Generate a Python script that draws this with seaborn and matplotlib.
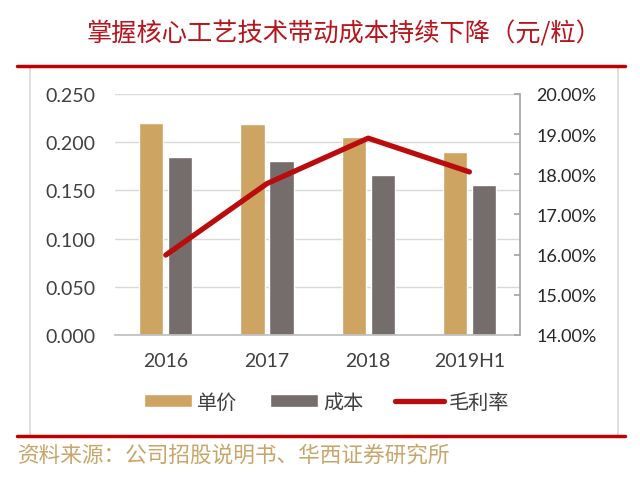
import matplotlib
matplotlib.use('Agg')
import matplotlib.pyplot as plt
import seaborn as sns
import pandas as pd
from matplotlib.lines import Line2D
from matplotlib.patches import Rectangle, Patch
from matplotlib.ticker import FuncFormatter

years = ['2016', '2017', '2018', '2019H1']
unit_price = [0.220, 0.219, 0.205, 0.190]
unit_cost = [0.185, 0.181, 0.166, 0.156]
gross_margin = [0.1599, 0.1777, 0.1890, 0.1806]

series_names = ['单价', '成本', '毛利率']
bar_colors = ['#CDA462', '#756C6C']
line_color = '#BA0C0C'

sns.set_theme(style='white')
cjk = ['Noto Sans CJK SC', 'DejaVu Sans']
num_font = ['Lato', 'DejaVu Sans']
plt.rcParams['font.family'] = cjk

df = pd.DataFrame({
    'year': years * 2,
    'value': unit_price + unit_cost,
    'kind': [series_names[0]] * len(years) + [series_names[1]] * len(years),
})

fig = plt.figure(figsize=(6.4, 4.81), dpi=100)
ax = fig.add_axes([0.18, 0.3015, 0.6325, 0.501])

sns.barplot(data=df, x='year', y='value', hue='kind', palette=bar_colors,
            width=0.575, gap=0.165, ax=ax, legend=False, saturation=1)
ax.set_ylim(0, 0.25)
ax.set_xlim(-0.5, 3.5)
ax.set_yticks([0, 0.05, 0.10, 0.15, 0.20, 0.25])
ax.yaxis.set_major_formatter(FuncFormatter(lambda v, p: f'{v:.3f}'))
ax.grid(axis='y', color='#D9D9D9', linewidth=1)
ax.set_axisbelow(True)
ax.set_xlabel('')
ax.set_ylabel('')
for s in ['left', 'top', 'right']:
    ax.spines[s].set_visible(False)
ax.spines['bottom'].set_color('#BFBFBF')
ax.tick_params(axis='y', length=0, labelsize=14, labelcolor='#404040', pad=14)
ax.tick_params(axis='x', length=0, labelsize=14, labelcolor='#404040', pad=12)
for lab in ax.get_xticklabels() + ax.get_yticklabels():
    lab.set_family(num_font)

ax2 = ax.twinx()
sns.lineplot(x=years, y=gross_margin, ax=ax2, color=line_color, linewidth=3.8,
             solid_capstyle='round')
ax2.set_ylim(0.14, 0.20)
ax2.set_yticks([0.14, 0.15, 0.16, 0.17, 0.18, 0.19, 0.20])
ax2.yaxis.set_major_formatter(FuncFormatter(lambda v, p: f'{v * 100:.2f}%'))
ax2.set_xlim(-0.5, 3.5)
for s in ['left', 'top', 'bottom']:
    ax2.spines[s].set_visible(False)
ax2.spines['right'].set_color('#A6A6A6')
ax2.tick_params(axis='y', direction='in', length=4, color='#A6A6A6',
                labelsize=13, labelcolor='#262626', pad=12)
for lab in ax2.get_yticklabels():
    lab.set_family(num_font)

handles = [Patch(facecolor=bar_colors[0]), Patch(facecolor=bar_colors[1]),
           Line2D([0], [0], color=line_color, linewidth=3.8, solid_capstyle='round')]
fig.legend(handles, series_names, loc='center', bbox_to_anchor=(0.51, 0.162), ncol=3,
           frameon=False, fontsize=14.5, handlelength=2.4, handleheight=0.6,
           handletextpad=0.25, columnspacing=1.6, labelcolor='#404040')

fig.patches.append(Rectangle((0.047, 0.0915), 0.919, 0.769, transform=fig.transFigure,
                             fill=False, edgecolor='#D9D9D9', linewidth=1.2))
fig.add_artist(Line2D([0.027, 0.977], [0.861, 0.861], transform=fig.transFigure,
                      color='#C00000', linewidth=2.5))
fig.add_artist(Line2D([0.027, 0.977], [0.0915, 0.0915], transform=fig.transFigure,
                      color='#C00000', linewidth=2.5))

fig.text(0.538, 0.928, '掌握核心工艺技术带动成本持续下降（元/粒）', ha='center', va='center',
         fontsize=18.2, color='#B8141C')
fig.text(0.028, 0.052, '资料来源：公司招股说明书、华西证券研究所', ha='left', va='center',
         fontsize=15.6, color='#C9A56A')

fig.savefig('out.png', dpi=100)
plt.close(fig)
